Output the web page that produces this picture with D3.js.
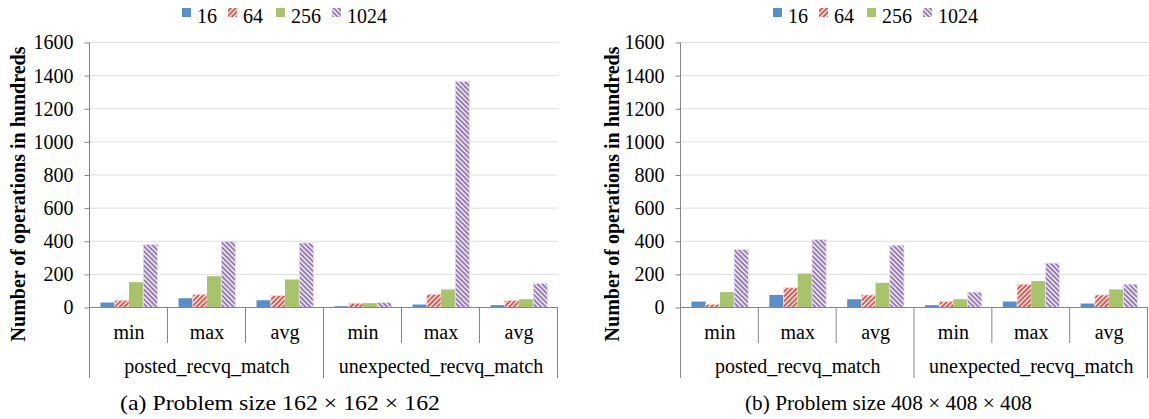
<!DOCTYPE html>
<html>
<head>
<meta charset="utf-8">
<script src="https://cdn.jsdelivr.net/npm/d3@7"></script>
<style>
body { margin: 0; background: #fff; }
text { font-family: "Liberation Serif", "Times New Roman", serif; fill: #000; }
</style>
</head>
<body>
<script>
// categories
const series = ["16", "64", "256", "1024"];
const stats = ["min", "max", "avg"];
const groups = ["posted_recvq_match", "unexpected_recvq_match"];
const yTicks = [0, 200, 400, 600, 800, 1000, 1200, 1400, 1600];

// (a) problem size 162^3, one value per category (min,max,avg x 2 groups)
const a16   = [30, 56, 44, 8, 18, 14];
const a64   = [44, 80, 72, 26, 80, 42];
const a256  = [153, 189, 169, 26, 109, 50];
const a1024 = [380, 400, 390, 30, 1365, 145];

// (b) problem size 408^3
const b16   = [36, 76, 50, 14, 36, 24];
const b64   = [20, 119, 76, 36, 141, 76];
const b256  = [93, 205, 149, 50, 159, 109];
const b1024 = [350, 410, 376, 93, 268, 141];

const colors = ["#5b8ec9", "#d5584f", "#a7c36b", "#9679b8"];
const fills = [colors[0], "url(#hatchRed)", colors[2], "url(#hatchPurple)"];
const strokes = ["none", "#f3dad8", "none", "#e7e0f0"];

const W = 1149, H = 419;
const svg = d3.select("body").append("svg")
    .attr("width", W).attr("height", H)
    .attr("viewBox", [0, 0, W, H]);

let defs = svg.append("defs");
function hatch(id, color, angle) {
    let p = defs.append("pattern")
        .attr("id", id)
        .attr("patternUnits", "userSpaceOnUse")
        .attr("width", 3.4).attr("height", 4)
        .attr("patternTransform", "rotate(" + angle + ")");
    p.append("rect").attr("width", 3.4).attr("height", 4).attr("fill", color);
    p.append("rect").attr("width", 1.3).attr("height", 4).attr("fill", "#fff");
}
hatch("hatchRed", colors[1], 45);
hatch("hatchPurple", colors[3], -45);

// categories in drawing order
const cats = [];
groups.forEach(g => stats.forEach(s => cats.push({group: g, stat: s})));

function drawPanel(p) {
    let g = svg.append("g");
    let x = d3.scaleBand().domain(d3.range(cats.length)).range([p.x0, p.x1]);
    let xs = d3.scaleBand().domain(series).range([10.5, x.bandwidth() - 10.5]);
    let y = d3.scaleLinear().domain([0, 1600]).range([307.5, 42.5]);

    // gridlines
    g.selectAll(".grid").data(yTicks.slice(1)).join("line")
        .attr("x1", p.x0).attr("x2", p.x1)
        .attr("y1", d => y(d)).attr("y2", d => y(d))
        .attr("stroke", "#dedede").attr("stroke-width", 1);

    // y axis
    let yAxis = d3.axisLeft(y).tickValues(yTicks).tickSize(5).tickPadding(11)
        .tickFormat(d3.format("d"));
    let ya = g.append("g").attr("transform", "translate(" + (p.x0 - 0.5) + ",0)").call(yAxis);
    ya.select(".domain").remove();
    ya.selectAll(".tick line").attr("stroke", "#868686");
    ya.selectAll(".tick text").style("font-size", "20px").attr("fill", "#000")
        .style("font-family", "'Liberation Serif', serif");
    g.append("line")
        .attr("x1", p.x0 - 0.5).attr("x2", p.x0 - 0.5)
        .attr("y1", y(1600)).attr("y2", 378)
        .attr("stroke", "#868686");

    // bars
    p.values.forEach((vals, si) => {
        g.append("g").selectAll("rect").data(vals).join("rect")
            .attr("x", (d, i) => x(i) + xs(series[si]))
            .attr("width", xs.bandwidth())
            .attr("y", d => y(d))
            .attr("height", d => y(0) - y(d))
            .attr("fill", fills[si])
            .attr("stroke", strokes[si])
            .attr("stroke-width", 0.8);
    });

    // baseline
    g.append("line")
        .attr("x1", p.x0).attr("x2", p.x1)
        .attr("y1", 307.5).attr("y2", 307.5)
        .attr("stroke", "#868686");

    // category separators
    for (let i = 1; i <= cats.length; i++) {
        let sx = (i === cats.length ? p.x1 : x(i)) - 0.5;
        g.append("line")
            .attr("x1", sx).attr("x2", sx)
            .attr("y1", 307.5).attr("y2", i % 3 === 0 ? 378 : 343)
            .attr("stroke", "#868686");
    }

    // stat labels
    g.selectAll(".stat").data(cats).join("text")
        .attr("x", (d, i) => x(i) + x.bandwidth() / 2)
        .attr("y", 339)
        .attr("text-anchor", "middle")
        .style("font-size", "20px")
        .text(d => d.stat);

    // group labels
    g.selectAll(".grp").data(groups).join("text")
        .attr("x", (d, i) => x(i * 3) + x.bandwidth() * 1.5)
        .attr("y", 373)
        .attr("text-anchor", "middle")
        .style("font-size", "20px")
        .text(d => d);

    // y title
    g.append("text")
        .attr("transform", "translate(" + p.titleX + ",194) rotate(-90)")
        .attr("text-anchor", "middle")
        .attr("dy", "0.35em")
        .style("font-size", "20px")
        .style("font-weight", "bold")
        .text("Number of operations in hundreds");

    // legend
    const legOff = [0, 46, 94, 150];
    series.forEach((s, si) => {
        let lx = p.x0 + 92 + legOff[si];
        g.append("rect")
            .attr("x", lx).attr("y", 8)
            .attr("width", 9).attr("height", 9)
            .attr("fill", fills[si]);
        g.append("text")
            .attr("x", lx + 15).attr("y", 23)
            .style("font-size", "20px")
            .text(s);
    });

    // caption
    g.append("text")
        .attr("x", p.capX).attr("y", 410)
        .style("font-size", "22px")
        .attr("textLength", p.capLen)
        .attr("lengthAdjust", "spacingAndGlyphs")
        .text(p.caption);
}

drawPanel({
    x0: 90, x1: 558, titleX: 18,
    values: [a16, a64, a256, a1024],
    caption: "(a) Problem size 162 \u00d7 162 \u00d7 162",
    capX: 120, capLen: 320
});
drawPanel({
    x0: 681, x1: 1148, titleX: 612,
    values: [b16, b64, b256, b1024],
    caption: "(b) Problem size 408 \u00d7 408 \u00d7 408",
    capX: 745, capLen: 287
});
</script>
</body>
</html>
